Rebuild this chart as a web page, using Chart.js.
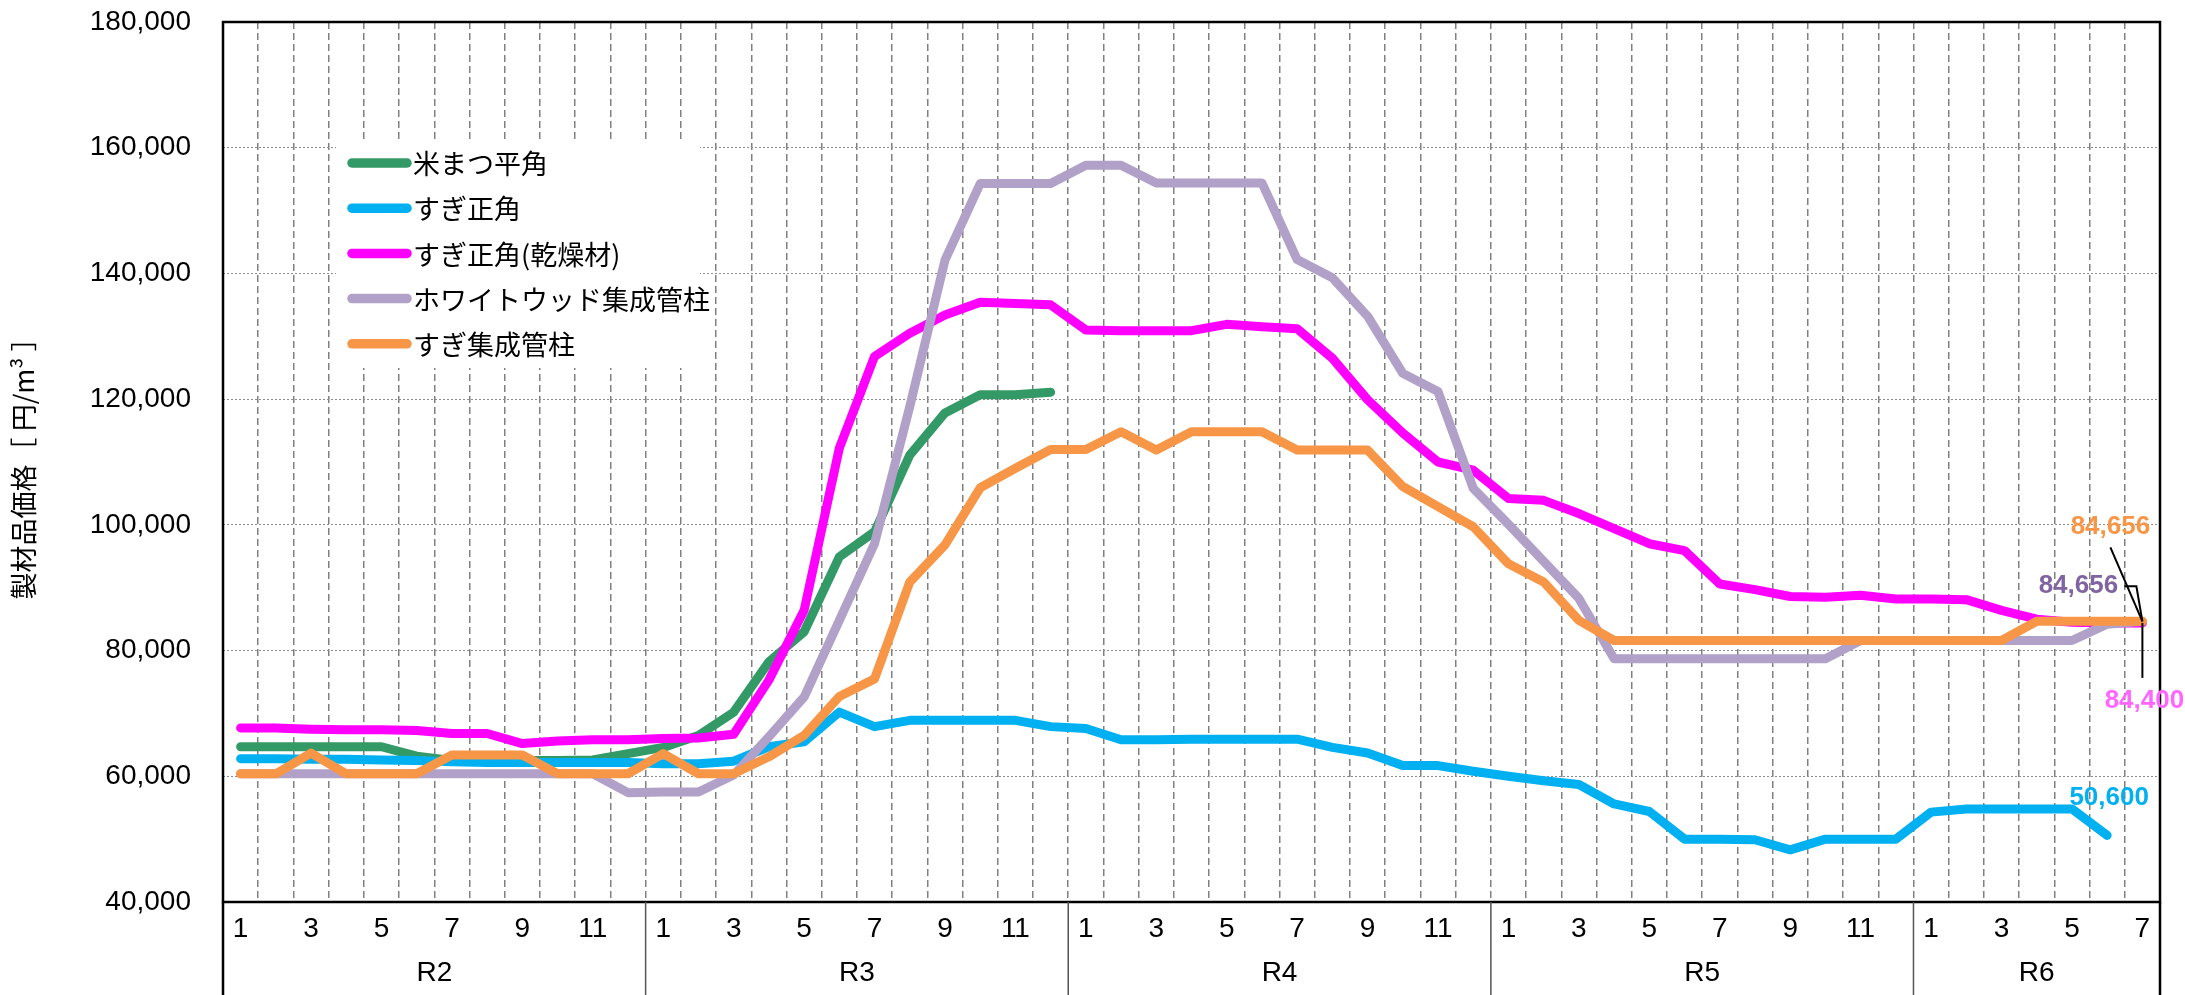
<!DOCTYPE html>
<html><head><meta charset="utf-8">
<script src="https://cdn.jsdelivr.net/npm/chart.js@4.4.0/dist/chart.umd.min.js"></script>
<style>html,body{margin:0;padding:0;background:#fff;}#c{display:block;}</style>
</head><body>
<canvas id="c" width="2185" height="995"></canvas>
<script>
const yearLabels = ['R2','R3','R4','R5','R6'];
const monthLabels = ['1','2','3','4','5','6','7','8','9','10','11','12',
  '1','2','3','4','5','6','7','8','9','10','11','12',
  '1','2','3','4','5','6','7','8','9','10','11','12',
  '1','2','3','4','5','6','7','8','9','10','11','12',
  '1','2','3','4','5','6','7'];
const yTicksMin = 40000, yTicksMax = 180000, yTickStep = 20000;
const yTitle = '製材品価格［ 円/m³ ］';
const seriesNames = ['米まつ平角','すぎ正角','すぎ正角(乾燥材)','ホワイトウッド集成管柱','すぎ集成管柱'];
const seriesColors = ['#339966','#00B0F0','#FF00FF','#B1A0C7','#F79646'];
const labelColors = ['#339966','#00B0F0','#FF66FF','#8064A2','#F79646'];

const beimatsuHirakaku = [64700,64700,64700,64700,64700,63200,62500,62500,62500,62500,62600,63600,
  64600,66500,70200,78200,83000,94900,98900,111100,117800,120700,120700,121100,
  null,null,null,null,null,null,null,null,null,null,null,null,
  null,null,null,null,null,null,null,null,null,null,null,null,
  null,null,null,null,null,null,null];
const sugiShokaku = [62800,62800,62700,62700,62600,62500,62300,62200,62200,62200,62200,62200,
  62000,62000,62400,64700,65500,70200,67900,68900,68900,68900,68900,67900,
  67600,65800,65800,65900,65900,65900,65900,64600,63700,61700,61700,60800,
  60000,59300,58700,55600,54400,50000,50000,49900,48300,50000,50000,50000,
  54300,54800,54800,54800,54800,50600,null];
const sugiShokakuKansou = [67700,67700,67500,67400,67400,67300,66800,66800,65200,65600,65800,65800,
  66000,66100,66700,75300,86400,112200,126800,130500,133400,135400,135200,135000,
  131000,130900,130900,130900,131900,131500,131200,126500,119900,114600,110000,108700,
  104200,103900,101800,99400,97000,95900,90600,89700,88600,88500,88800,88200,
  88200,88100,86400,85000,84500,84400,84400];
const whitewoodKanchu = [60400,60400,60400,60400,60400,60400,60400,60400,60400,60400,60400,57400,
  57500,57500,60200,66300,72600,84800,97000,118800,142100,154300,154300,154300,
  157200,157200,154400,154400,154400,154400,142200,139300,133200,124100,121200,105800,
  100100,94200,88300,78700,78700,78700,78700,78700,78700,78700,81600,81600,
  81600,81600,81600,81600,81600,84200,84656];
const sugiShuseiKanchu = [60400,60400,63700,60400,60400,60400,63400,63400,63400,60400,60400,60400,
  63600,60400,60400,63100,66500,72700,75500,90900,96800,105900,109000,112000,
  112000,114800,111900,114800,114800,114800,111900,111900,111900,106100,102900,99700,
  93800,90900,84800,81600,81600,81600,81600,81600,81600,81600,81600,81600,
  81600,81600,81600,84656,84656,84656,84656];
const seriesData = [beimatsuHirakaku, sugiShokaku, sugiShokakuKansou, whitewoodKanchu, sugiShuseiKanchu];
const drawOrder = [5,4,3,2,1];

const numFont = '"Liberation Sans", Arial, sans-serif';
const jpFont = '"Noto Sans CJK JP", sans-serif';
const fmt = v => v.toLocaleString('en-US');

function lastIndex(arr){ for(let i=arr.length-1;i>=0;i--) if(arr[i]!==null) return i; return -1; }

const overlay = {
  id: 'overlay',
  beforeDatasetsDraw(chart){
    const ctx = chart.ctx; ctx.save();
    ctx.fillStyle = '#fff';
    ctx.fillRect(336, 140, 364, 228);
    chart.data.datasets.forEach((ds, i) => {
      const y = 163 + i * 45.2;
      ctx.strokeStyle = ds.borderColor; ctx.lineWidth = 9.5; ctx.lineCap = 'round';
      ctx.beginPath(); ctx.moveTo(352, y); ctx.lineTo(407, y); ctx.stroke();
      ctx.fillStyle = '#000'; ctx.font = '27px ' + jpFont;
      ctx.textBaseline = 'middle'; ctx.textAlign = 'left';
      ctx.fillText(ds.label, 413, y + 1);
    });
    ctx.restore();
  },
  afterDraw(chart){
    const ctx = chart.ctx, a = chart.chartArea, xs = chart.scales.x;
    const H = chart.height;
    ctx.save();
    ctx.strokeStyle = '#000'; ctx.lineWidth = 2.5; ctx.setLineDash([]);
    ctx.strokeRect(a.left, a.top, a.right - a.left, a.bottom - a.top);
    ctx.beginPath();
    ctx.moveTo(a.left, a.bottom); ctx.lineTo(a.left, H);
    ctx.moveTo(a.right, a.bottom); ctx.lineTo(a.right, H);
    ctx.stroke();
    const starts = [];
    monthLabels.forEach((m, i) => { if (m === '1') starts.push(i); });
    const step = (xs.getPixelForValue(1) - xs.getPixelForValue(0));
    ctx.strokeStyle = '#555'; ctx.lineWidth = 1.5;
    ctx.font = '28px ' + numFont; ctx.fillStyle = '#000';
    ctx.textAlign = 'center'; ctx.textBaseline = 'middle';
    starts.forEach((s, k) => {
      const e = (k + 1 < starts.length ? starts[k + 1] : monthLabels.length) - 1;
      const x0 = xs.getPixelForValue(s) - step / 2;
      const x1 = xs.getPixelForValue(e) + step / 2;
      if (k > 0) { ctx.beginPath(); ctx.moveTo(x0, a.bottom); ctx.lineTo(x0, H); ctx.stroke(); }
      ctx.fillText(yearLabels[k], (x0 + x1) / 2, 973);
    });
    const pt = i => { const m = chart.getDatasetMeta(i); const li = lastIndex(seriesData[i]); return m.data[li]; };
    ctx.font = 'bold 26px ' + numFont;
    ctx.strokeStyle = '#000'; ctx.lineWidth = 2;
    let p = pt(4);
    ctx.fillStyle = labelColors[4];
    ctx.fillText(fmt(sugiShuseiKanchu[lastIndex(sugiShuseiKanchu)]), p.x - 32, p.y - 94);
    ctx.beginPath(); ctx.moveTo(p.x - 32, p.y - 74); ctx.lineTo(p.x, p.y); ctx.stroke();
    p = pt(3);
    ctx.fillStyle = labelColors[3];
    ctx.fillText(fmt(whitewoodKanchu[lastIndex(whitewoodKanchu)]), p.x - 64, p.y - 35);
    ctx.beginPath(); ctx.moveTo(p.x - 18, p.y - 35); ctx.lineTo(p.x - 6, p.y - 35); ctx.lineTo(p.x, p.y); ctx.stroke();
    p = pt(2);
    ctx.fillStyle = labelColors[2];
    ctx.fillText(fmt(sugiShokakuKansou[lastIndex(sugiShokakuKansou)]), p.x + 2, p.y + 78);
    ctx.beginPath(); ctx.moveTo(p.x, p.y); ctx.lineTo(p.x, p.y + 55); ctx.stroke();
    p = pt(1);
    ctx.fillStyle = labelColors[1];
    ctx.fillText(fmt(sugiShokaku[lastIndex(sugiShokaku)]), p.x + 2, p.y - 38);
    ctx.restore();
  }
};

new Chart(document.getElementById('c'), {
  type: 'line',
  data: {
    labels: monthLabels,
    datasets: seriesNames.map((name, i) => ({
      label: name,
      data: seriesData[i],
      borderColor: seriesColors[i],
      backgroundColor: seriesColors[i],
      borderWidth: 9,
      pointRadius: 0,
      pointHoverRadius: 0,
      tension: 0,
      fill: false,
      spanGaps: false,
      borderCapStyle: 'round',
      borderJoinStyle: 'round',
      order: drawOrder[i]
    }))
  },
  options: {
    responsive: false,
    animation: false,
    devicePixelRatio: 1,
    layout: { padding: { top: 22, right: 25, left: 0, bottom: 0 } },
    plugins: { legend: { display: false }, tooltip: { enabled: false } },
    scales: {
      x: {
        offset: true,
        grid: { offset: true, color: '#808080', lineWidth: 1.5, drawTicks: false, borderDash: [7, 4] },
        border: { display: false, dash: [7, 4] },
        ticks: {
          autoSkip: false, maxRotation: 0, minRotation: 0, padding: 10, color: '#000',
          font: { family: numFont, size: 28 },
          callback: (v, i) => (Number(monthLabels[i]) % 2 === 1 ? monthLabels[i] : '')
        },
        afterFit(s) { s.height = 93; s.paddingLeft = 0; s.paddingRight = 0; }
      },
      y: {
        min: yTicksMin, max: yTicksMax,
        grid: { color: '#8c8c8c', lineWidth: 1, drawTicks: false, borderDash: [2, 2] },
        border: { display: false, dash: [2, 2] },
        ticks: {
          stepSize: yTickStep, padding: 32, color: '#000',
          font: { family: numFont, size: 28 },
          callback: v => fmt(v)
        },
        title: { display: true, text: yTitle, color: '#000', font: { family: jpFont, size: 27 }, padding: { top: 8, bottom: 0 } },
        afterFit(s) { s.width = 223; s.paddingTop = 0; s.paddingBottom = 0; }
      }
    }
  },
  plugins: [overlay]
});
</script>
</body></html>
